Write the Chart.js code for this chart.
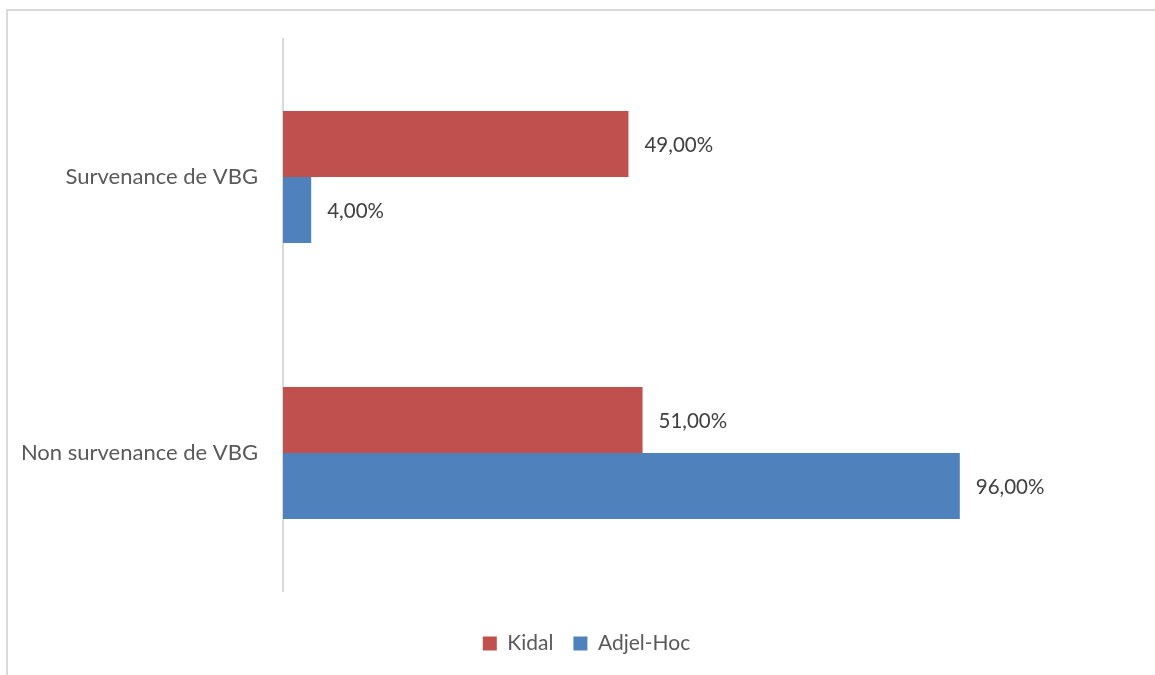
<!DOCTYPE html>
<html>
<head>
<meta charset="utf-8">
<script src="https://cdn.jsdelivr.net/npm/chart.js@4.4.0/dist/chart.umd.min.js"></script>
<style>
  html, body { margin: 0; padding: 0; background: #fff; }
  #wrap { width: 1155px; height: 675px; position: relative; }
</style>
</head>
<body>
<div id="wrap"><canvas id="vbgChart"></canvas></div>
<script>
const categories = ['Survenance de VBG', 'Non survenance de VBG'];
const kidalValues = [49, 51];
const adjelHocValues = [4, 96];
const seriesNames = ['Kidal', 'Adjel-Hoc'];

const FONT = 'Lato, "Open Sans", sans-serif';

// value labels written to the right of each bar, French decimal comma
const barValueLabels = {
    id: 'barValueLabels',
    afterDatasetsDraw(chart) {
        const ctx = chart.ctx;
        ctx.save();
        ctx.font = '20.5px ' + FONT;
        ctx.fillStyle = '#404040';
        ctx.textAlign = 'left';
        ctx.textBaseline = 'middle';
        chart.data.datasets.forEach((ds, i) => {
            chart.getDatasetMeta(i).data.forEach((bar, j) => {
                const txt = ds.data[j].toFixed(2).replace('.', ',') + '%';
                ctx.fillText(txt, bar.x + 16, bar.y + 1);
            });
        });
        ctx.restore();
    }
};

// thin frame along the top and left edges
const frame = {
    id: 'frame',
    beforeDraw(chart) {
        const ctx = chart.ctx;
        ctx.save();
        ctx.strokeStyle = '#d9d9d9';
        ctx.lineWidth = 2;
        ctx.beginPath();
        ctx.moveTo(7, 675);
        ctx.lineTo(7, 10);
        ctx.lineTo(1155, 10);
        ctx.stroke();
        ctx.restore();
    }
};

// nudge the legend a bit right of the canvas centre
const legendShift = {
    id: 'legendShift',
    afterLayout(chart) {
        chart.legend.left += 22;
        chart.legend.right += 22;
    }
};

new Chart(document.getElementById('vbgChart'), {
    type: 'bar',
    data: {
        labels: categories,
        datasets: [
            {
                label: seriesNames[0],
                data: kidalValues,
                backgroundColor: '#C0504D'
            },
            {
                label: seriesNames[1],
                data: adjelHocValues,
                backgroundColor: '#4F81BD'
            }
        ]
    },
    options: {
        indexAxis: 'y',
        responsive: true,
        maintainAspectRatio: false,
        animation: false,
        categoryPercentage: 0.478,
        barPercentage: 1,
        layout: {
            padding: { top: 39, right: 26, bottom: 11, left: 0 }
        },
        scales: {
            x: {
                min: 0,
                max: 120,
                grid: { display: false },
                border: { display: false },
                ticks: { display: false },
                afterFit(scale) { scale.height = 22; }
            },
            y: {
                grid: { display: false },
                border: { display: true, color: '#d9d9d9', width: 2 },
                ticks: {
                    color: '#595959',
                    font: { family: FONT, size: 22 },
                    padding: 17
                },
                afterFit(scale) { scale.width = 283; }
            }
        },
        plugins: {
            legend: {
                display: true,
                position: 'bottom',
                labels: {
                    boxWidth: 14,
                    boxHeight: 14,
                    padding: 20,
                    color: '#595959',
                    font: { family: FONT, size: 21 }
                }
            },
            tooltip: { enabled: false }
        }
    },
    plugins: [barValueLabels, frame, legendShift]
});
</script>
</body>
</html>
